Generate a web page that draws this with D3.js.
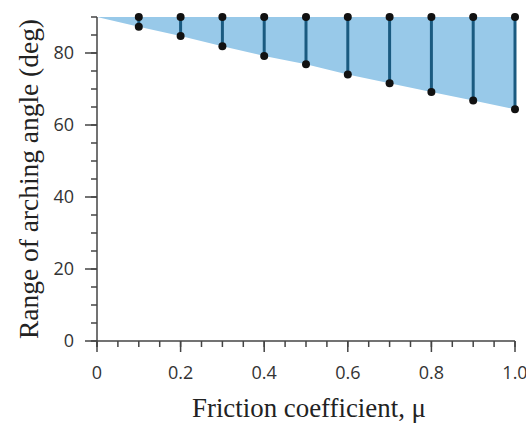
<!DOCTYPE html>
<html><head><meta charset="utf-8">
<script src="https://cdn.jsdelivr.net/npm/d3@7"></script>
<style>body{margin:0;background:#fff}svg{display:block}</style>
</head><body>
<script>
const mu = [0.1,0.2,0.3,0.4,0.5,0.6,0.7,0.8,0.9,1.0];
const upper = [90,90,90,90,90,90,90,90,90,90];
const lower = [87.3,84.7,81.9,79.2,76.9,74.0,71.6,69.2,66.8,64.4];
const xTicks = [0,0.2,0.4,0.6,0.8,1.0];
const xTickLabels = ["0","0.2","0.4","0.6","0.8","1.0"];
const yTicks = [0,20,40,60,80];

const W=526,H=426;
const svg=d3.select("body").append("svg").attr("width",W).attr("height",H);
const x=d3.scaleLinear().domain([0,1]).range([97,515]);
const y=d3.scaleLinear().domain([0,80]).range([341,53]);

// area
const areaData=[{m:0,lo:90,hi:90}].concat(mu.map((m,i)=>({m,lo:lower[i],hi:upper[i]})));
svg.append("path").datum(areaData)
  .attr("d",d3.area().x(d=>x(d.m)).y0(d=>y(d.lo)).y1(d=>y(d.hi)))
  .attr("fill","#98c9e9");

// axes
const axCol="#444";
const g=svg.append("g");
g.selectAll(".ym").data(d3.range(0,91,5)).enter().append("line")
  .attr("x1",91).attr("x2",97).attr("y1",d=>y(d)).attr("y2",d=>y(d))
  .attr("stroke",axCol).attr("stroke-width",1.5);
g.selectAll(".yM").data(yTicks).enter().append("line")
  .attr("x1",85).attr("x2",97).attr("y1",d=>y(d)).attr("y2",d=>y(d))
  .attr("stroke",axCol).attr("stroke-width",1.5);
g.append("line").attr("x1",97).attr("x2",97).attr("y1",y(90)).attr("y2",y(0)+6)
  .attr("stroke",axCol).attr("stroke-width",1.5);
g.append("line").attr("x1",97).attr("x2",x(1)).attr("y1",y(0)).attr("y2",y(0))
  .attr("stroke",axCol).attr("stroke-width",1.5);
g.selectAll(".xm").data(d3.range(0,21).map(i=>i*0.05)).enter().append("line")
  .attr("x1",d=>x(d)).attr("x2",d=>x(d)).attr("y1",y(0)).attr("y2",y(0)+6)
  .attr("stroke",axCol).attr("stroke-width",1.5);
g.selectAll(".xM").data(xTicks).enter().append("line")
  .attr("x1",d=>x(d)).attr("x2",d=>x(d)).attr("y1",y(0)).attr("y2",y(0)+11)
  .attr("stroke",axCol).attr("stroke-width",1.5);

const tf="'Open Sans', 'Noto Sans', sans-serif";
g.selectAll(".yl").data(yTicks).enter().append("text")
  .attr("x",74).attr("y",d=>y(d)).attr("dy","0.36em").attr("text-anchor","end")
  .attr("font-family",tf).attr("font-size",18).attr("fill","#333").text(d=>d);
g.selectAll(".xl").data(xTicks).enter().append("text")
  .attr("x",d=>x(d)).attr("y",379).attr("text-anchor","middle")
  .attr("font-family",tf).attr("font-size",18).attr("fill","#333").text((d,i)=>xTickLabels[i]);

const sf="'Liberation Serif','DejaVu Serif',serif";
svg.append("text").attr("x",309).attr("y",417).attr("text-anchor","middle")
  .attr("font-family",sf).attr("font-size",27).attr("fill","#222")
  .attr("textLength",234).attr("lengthAdjust","spacingAndGlyphs").text("Friction coefficient, μ");
svg.append("text").attr("transform","translate(38,179) rotate(-90)").attr("text-anchor","middle")
  .attr("font-family",sf).attr("font-size",27).attr("fill","#222")
  .attr("textLength",320).attr("lengthAdjust","spacingAndGlyphs").text("Range of arching angle (deg)");

// ranges
const pts=mu.map((m,i)=>({m,lo:lower[i],hi:upper[i]}));
svg.selectAll(".rl").data(pts).enter().append("line")
  .attr("x1",d=>x(d.m)).attr("x2",d=>x(d.m)).attr("y1",d=>y(d.lo)).attr("y2",d=>y(d.hi))
  .attr("stroke","#1a5a80").attr("stroke-width",3);
svg.selectAll(".dl").data(pts).enter().append("circle")
  .attr("cx",d=>x(d.m)).attr("cy",d=>y(d.lo)).attr("r",4).attr("fill","#111");
svg.selectAll(".dh").data(pts).enter().append("circle")
  .attr("cx",d=>x(d.m)).attr("cy",d=>y(d.hi)).attr("r",4).attr("fill","#111");
</script>
</body></html>
